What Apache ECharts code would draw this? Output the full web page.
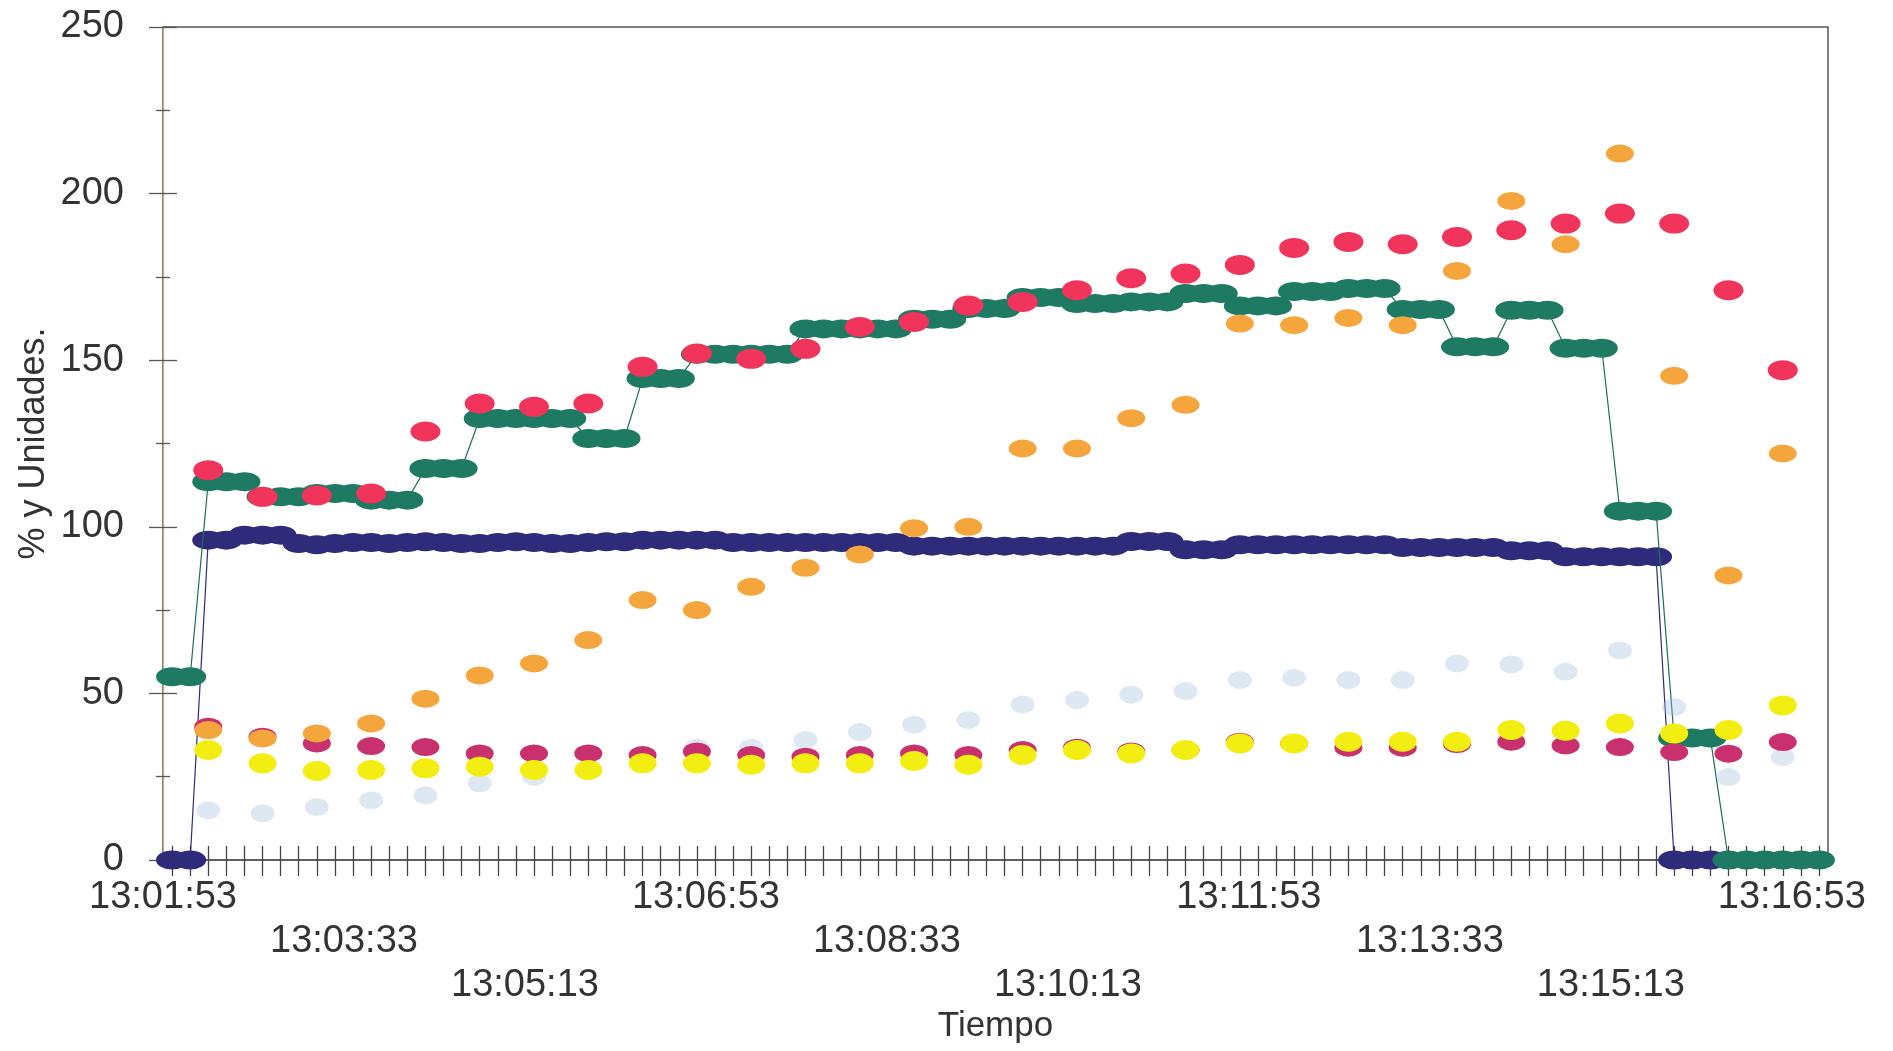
<!DOCTYPE html>
<html>
<head>
<meta charset="utf-8">
<script src="https://cdn.jsdelivr.net/npm/echarts@6/dist/echarts.min.js"></script>
<style>
html,body{margin:0;padding:0;background:#fff;}
#c{width:1893px;height:1051px;}
</style>
</head>
<body>
<div id="c"></div>
<script>
// ---- tick labels (every 100 s) ----
const tickLabels = ['13:01:53','13:03:33','13:05:13','13:06:53','13:08:33','13:10:13','13:11:53','13:13:33','13:15:13','13:16:53'];

// sampling: dense series every 10 s, first sample 5 s after 13:01:53;
// sparse series every 3rd sample starting at sample 2
const firstSampleSec = 5;
const samplePeriodSec = 10;
const sparseFirstIndex = 2;
const sparseEvery = 3;

// ---- dense series (one value per 10 s sample) ----
const navySeries = [
  0, 0,
  96, 96,
  97.5, 97.5, 97.5,
  95, 94.6, 95, 95.3, 95.3, 95, 95.3, 95.5, 95.3, 95, 95, 95.3, 95.5, 95.3, 95, 95, 95.3, 95.5, 95.5,
  96, 96, 96, 96, 96,
  95.3, 95.3, 95.3, 95.3, 95.3, 95.3, 95.3, 95.3, 95.3, 95.3,
  94.2, 94.2, 94.2, 94.2, 94.2, 94.2, 94.2, 94.2, 94.2, 94.2, 94.2, 94.2,
  95.6, 95.6, 95.6,
  93.1, 93.1, 93.1,
  94.6, 94.6, 94.6, 94.6, 94.6, 94.6, 94.6, 94.6, 94.6,
  93.8, 93.8, 93.8, 93.8, 93.8, 93.8,
  92.8, 92.8, 92.8,
  91, 91, 91, 91, 91, 91,
  0, 0, 0
];
const greenSeries = [
  55, 55,
  113.5, 113.5, 113.5,
  109, 109, 109,
  110, 110, 110,
  108, 108, 108,
  117.5, 117.5, 117.5,
  132.5, 132.5, 132.5, 132.5, 132.5, 132.5,
  126.5, 126.5, 126.5,
  144.5, 144.5, 144.5,
  151.8, 151.8, 151.8, 151.8, 151.8, 151.8,
  159.4, 159.4, 159.4, 159.4, 159.4, 159.4,
  162.3, 162.3, 162.3,
  165.5, 165.5, 165.5,
  168.8, 168.8, 168.8,
  167, 167, 167,
  167.5, 167.5, 167.5,
  170, 170, 170,
  166.3, 166.3, 166.3,
  170.6, 170.6, 170.6,
  171.5, 171.5, 171.5,
  165.2, 165.2, 165.2,
  154, 154, 154,
  165, 165, 165,
  153.6, 153.6, 153.6,
  104.7, 104.7, 104.7,
  36.6, 36.6, 36.6,
  0, 0, 0, 0, 0, 0
];

// ---- sparse series (one value per 30 s) ----
const redSeries = [117, 109, 109.4, 110, 128.6, 137, 136, 137, 148, 152, 150.4, 153.4, 160, 161.5, 166.4, 167.5, 171, 174.6, 176, 178.6, 183.7, 185.5, 184.8, 187, 189, 191, 194, 191, 171, 147];
const orangeSeries = [39, 36.5, 38, 41, 48.4, 55.4, 59, 66, 78, 75, 82, 87.7, 91.7, 99.6, 100, 123.5, 123.5, 132.6, 136.6, 161, 160.5, 162.7, 160.5, 176.8, 197.8, 184.8, 212, 145.3, 85.4, 122];
const yellowSeries = [33, 29, 26.7, 27, 27.5, 28, 27, 27, 29, 29, 28.6, 29, 29, 29.7, 28.6, 31.5, 33, 32, 33, 35, 35, 35.5, 35.5, 35.5, 39, 38.8, 41, 38, 39, 46.4];
const pinkSeries = [40, 37, 35, 34.2, 33.9, 32, 32, 32, 31.5, 32.6, 31.5, 31, 31.5, 32, 31.5, 33, 33.7, 32.6, 33, 35.5, 35, 33.7, 33.7, 34.8, 35.5, 34.4, 33.9, 32.4, 31.9, 35.4];
const lightBlueSeries = [14.9, 14, 15.9, 17.9, 19.4, 23, 25, 27, 31, 33.7, 33.7, 36, 38.4, 40.6, 42, 46.7, 48, 49.6, 50.7, 54, 54.7, 54, 54, 59, 58.7, 56.5, 62.9, 45.9, 24.9, 30.9];

// ---- helpers to pair values with their sample time (seconds after 13:01:53) ----
const denseTime = k => firstSampleSec + samplePeriodSec * k;
const sparseTime = i => denseTime(sparseFirstIndex + sparseEvery * i);
const dense = arr => arr.map((v, k) => [denseTime(k), v]);
const sparse = arr => arr.map((v, i) => [sparseTime(i), v]);

const ELLIPSE = 'path://M0,50 A50,50 0 1,1 100,50 A50,50 0 1,1 0,50 Z';
const FONT = 'Liberation Sans';
const TXT = '#333333';

const X_MAX = 920;

function scatter(name, data, color, size, z) {
  return {
    name, type: 'scatter', data: sparse(data),
    xAxisIndex: 0, yAxisIndex: 0, z: z,
    symbol: ELLIPSE, symbolSize: size,
    itemStyle: { color: color, opacity: 1 },
    emphasis: { disabled: true },
    silent: true, animation: false
  };
}

const option = {
  backgroundColor: '#ffffff',
  animation: false,
  grid: {
    left: 163, right: 65, top: 27, bottom: 191,
    containLabel: false, outerBoundsMode: 'none',
    show: true, borderColor: '#555', borderWidth: 1.5, backgroundColor: 'transparent'
  },
  xAxis: [
    {
      type: 'value', min: 0, max: X_MAX, interval: 100, position: 'bottom',
      name: 'Tiempo', nameLocation: 'middle', nameGap: 149, nameMoveOverlap: false,
      nameTextStyle: { fontFamily: FONT, fontSize: 35, color: TXT, lineHeight: 35 },
      axisLine: { show: true, onZero: false, lineStyle: { color: '#555', width: 1.5 } },
      axisTick: { show: false },
      splitLine: { show: false },
      axisLabel: {
        show: true, margin: 16, hideOverlap: false, showMinLabel: true, showMaxLabel: true,
        fontFamily: FONT, fontSize: 38, color: TXT, lineHeight: 44,
        formatter: function (v) {
          if (Math.abs(v % 100) > 1e-6) return '';
          const j = Math.round(v / 100);
          if (j < 0 || j >= tickLabels.length) return '';
          return '\n'.repeat(j % 3) + tickLabels[j];
        }
      }
    },
    {
      type: 'value', min: 0, max: X_MAX, interval: samplePeriodSec, position: 'bottom',
      axisLine: { show: false }, axisLabel: { show: false }, splitLine: { show: false },
      axisTick: { show: false, inside: false },
      minorTick: { show: true, splitNumber: 2, length: 16, lineStyle: { color: '#444', width: 1.3 } },
      minorSplitLine: { show: false }
    },
    {
      type: 'value', min: 0, max: X_MAX, interval: samplePeriodSec, position: 'bottom',
      axisLine: { show: false }, axisLabel: { show: false }, splitLine: { show: false },
      axisTick: { show: false, inside: true },
      minorTick: { show: true, splitNumber: 2, length: 14, lineStyle: { color: '#444', width: 1.3 } },
      minorSplitLine: { show: false }
    }
  ],
  yAxis: [
    {
      type: 'value', min: 0, max: 250, interval: 50, position: 'left',
      name: '% y Unidades.', nameLocation: 'middle', nameGap: 111, nameMoveOverlap: false,
      nameTextStyle: { fontFamily: FONT, fontSize: 36, color: TXT, lineHeight: 36 },
      axisLine: { show: true, onZero: false, lineStyle: { color: '#b8b07e', width: 1.2 } },
      axisTick: { show: true, length: 14, lineStyle: { color: '#555', width: 1.3 } },
      minorTick: { show: true, splitNumber: 2, length: 7, lineStyle: { color: '#555', width: 1.3 } },
      splitLine: { show: false },
      axisLabel: { show: true, margin: 39, fontFamily: FONT, fontSize: 38, color: TXT, hideOverlap: false }
    },
    {
      type: 'value', min: 0, max: 250, interval: 50, position: 'left',
      axisLine: { show: false }, axisLabel: { show: false }, splitLine: { show: false },
      axisTick: { show: true, inside: true, length: 14, lineStyle: { color: '#555', width: 1.3 } },
      minorTick: { show: true, splitNumber: 2, length: 7, lineStyle: { color: '#555', width: 1.3 } }
    }
  ],
  series: [
    {
      name: 'Serie azul', type: 'line', data: dense(navySeries),
      xAxisIndex: 0, yAxisIndex: 0, z: 2,
      symbol: ELLIPSE, symbolSize: [32, 19], showSymbol: true, showAllSymbol: true,
      itemStyle: { color: '#2e2b7a' },
      lineStyle: { color: '#2e2b7a', width: 1.2 },
      emphasis: { disabled: true }, silent: true, animation: false, clip: false
    },
    {
      name: 'Serie verde', type: 'line', data: dense(greenSeries),
      xAxisIndex: 0, yAxisIndex: 0, z: 3,
      symbol: ELLIPSE, symbolSize: [32, 19], showSymbol: true, showAllSymbol: true,
      itemStyle: { color: '#1e7a62' },
      lineStyle: { color: '#1e6f5a', width: 1.2 },
      emphasis: { disabled: true }, silent: true, animation: false, clip: false
    },
    scatter('Serie celeste', lightBlueSeries, 'rgba(160,190,222,0.35)', [24, 18], 4),
    scatter('Serie magenta', pinkSeries, '#c8306e', [28, 18], 5),
    scatter('Serie naranja', orangeSeries, '#f4a53c', [28, 18], 6),
    scatter('Serie amarilla', yellowSeries, '#f3ee12', [28, 20], 7),
    scatter('Serie roja', redSeries, '#f0345c', [30, 20], 8)
  ]
};

const chart = echarts.init(document.getElementById('c'), null, { renderer: 'canvas' });
chart.setOption(option);
</script>
</body>
</html>
